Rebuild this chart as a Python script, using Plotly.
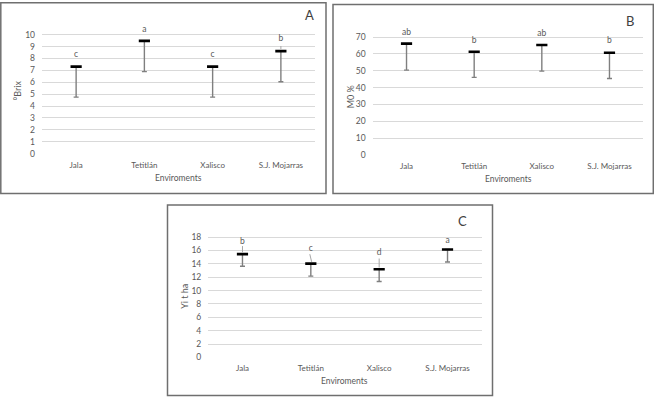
import plotly.graph_objects as go

W, H = 654, 402

categories = ["Jala", "Tetitlán", "Xalisco", "S.J. Mojarras"]

brix_mean = [7.32, 9.48, 7.32, 8.62]
brix_low = [4.75, 6.9, 4.75, 6.05]
brix_letters = ["c", "a", "c", "b"]
brix_letter_y = [8.3, 10.4, 8.3, 9.65]
brix_ticks = [0, 1, 2, 3, 4, 5, 6, 7, 8, 9, 10]

mo_mean = [66.1, 61.3, 65.3, 60.7]
mo_low = [50.4, 46.1, 49.8, 45.4]
mo_letters = ["ab", "b", "ab", "b"]
mo_letter_y = [72.6, 68.0, 72.0, 67.5]
mo_ticks = [0, 10, 20, 30, 40, 50, 60, 70]

yi_mean = [15.45, 14.04, 13.2, 16.14]
yi_low = [13.65, 12.17, 11.35, 14.27]
yi_letters = ["b", "c", "d", "a"]
yi_letter_y = [17.27, 16.3, 15.65, 17.47]
yi_ticks = [0, 2, 4, 6, 8, 10, 12, 14, 16, 18]

FONT = "Lato, Liberation Sans, Arial, sans-serif"
TXT = "#595959"
GRID = "#d9d9d9"


def px_x(px):
    return px / W


def px_y(py):
    return 1 - py / H


panels = [
    dict(ax="", xl=42, xr=315, y0=154.3, yt=33.3, ticks=brix_ticks, ext=11,
         mean=brix_mean, low=brix_low, letters=brix_letters, ly=brix_letter_y,
         ytitle="°Brix", ytx=17, yty=90, xtx=178, xty=179,
         tag="A", tagx=309, tagy=13, box=(0.8, 0.8, 326, 195)),
    dict(ax="2", xl=372.7, xr=643.3, y0=155.7, yt=35.7, ticks=mo_ticks, ext=76,
         mean=mo_mean, low=mo_low, letters=mo_letters, ly=mo_letter_y,
         ytitle="M0 %", ytx=350, yty=97, xtx=508, xty=180,
         tag="B", tagx=630, tagy=19, box=(333, 2.5, 653.3, 195)),
    dict(ax="3", xl=208.3, xr=481.7, y0=361.7, yt=239.3, ticks=yi_ticks, ext=18.5,
         mean=yi_mean, low=yi_low, letters=yi_letters, ly=yi_letter_y,
         ytitle="Yi t ha", ytx=185, yty=300, xtx=345, xty=386,
         tag="C", tagx=462, tagy=223, box=(167.5, 206.5, 492.5, 400.5)),
]

fig = go.Figure()
annotations = []
shapes = []
xs = list(range(len(categories)))

for p in panels:
    xa = "x" + p["ax"]
    ya = "y" + p["ax"]
    top = p["ticks"][-1]
    top_px = p["y0"] - (p["y0"] - p["yt"]) * p["ext"] / top
    fig.add_trace(go.Scatter(
        x=xs, y=p["mean"], xaxis=xa, yaxis=ya, mode="markers",
        marker=dict(symbol="line-ew", size=8, color="black",
                    line=dict(color="black", width=2.6)),
        error_y=dict(type="data", symmetric=False,
                     array=[0] * len(xs),
                     arrayminus=[m - l for m, l in zip(p["mean"], p["low"])],
                     color="#7f7f7f", thickness=1.4, width=2.5),
        showlegend=False, hoverinfo="skip",
    ))
    fig.add_trace(go.Scatter(
        x=xs, y=p["ly"], xaxis=xa, yaxis=ya, mode="text",
        text=p["letters"], textposition="middle center",
        textfont=dict(family=FONT, size=8.5, color=TXT),
        showlegend=False, hoverinfo="skip",
    ))
    axkey = "axis" + p["ax"]
    fig.layout["x" + axkey] = dict(
        domain=[px_x(p["xl"]), px_x(p["xr"])], anchor=ya,
        range=[-0.5, len(xs) - 0.5], tickvals=xs, ticktext=categories,
        showgrid=False, zeroline=False, showline=False, ticks="",
        ticklabelstandoff=5,
        tickfont=dict(family=FONT, size=8, color=TXT), fixedrange=True,
    )
    fig.layout["y" + axkey] = dict(
        domain=[px_y(p["y0"]), px_y(top_px)], anchor=xa,
        range=[0, p["ext"]], tickmode="array", tickvals=p["ticks"],
        showgrid=True, gridcolor=GRID, gridwidth=1, zeroline=False,
        showline=False, ticks="", ticklabelstandoff=6,
        tickfont=dict(family=FONT, size=8.5, color=TXT), fixedrange=True,
    )
    annotations.append(dict(
        x=px_x(p["ytx"]), y=px_y(p["yty"]), xref="paper", yref="paper",
        text=p["ytitle"], textangle=-90, showarrow=False,
        font=dict(family=FONT, size=9, color=TXT),
        xanchor="center", yanchor="middle"))
    annotations.append(dict(
        x=px_x(p["xtx"]), y=px_y(p["xty"]), xref="paper", yref="paper",
        text="Enviroments", showarrow=False,
        font=dict(family=FONT, size=8.5, color=TXT),
        xanchor="center", yanchor="middle"))
    annotations.append(dict(
        x=px_x(p["tagx"]), y=px_y(p["tagy"]), xref="paper", yref="paper",
        text=p["tag"], showarrow=False,
        font=dict(family=FONT, size=13, color="#404040"),
        xanchor="center", yanchor="middle"))
    bx0, by0, bx1, by1 = p["box"]
    shapes.append(dict(
        type="rect", xref="paper", yref="paper",
        x0=px_x(bx0), x1=px_x(bx1), y0=px_y(by1), y1=px_y(by0),
        line=dict(color="#6f6f6f", width=1.5), fillcolor="rgba(0,0,0,0)"))

leaders = [
    ("", 3, 9.05, 8.8, 0.0, 0.0),
    ("3", 0, 16.66, 15.7, 0.0, 0.0),
    ("3", 1, 15.45, 14.3, -0.015, 0.012),
    ("3", 2, 14.8, 13.45, 0.0, 0.0),
]
for ax, i, ya0, ya1, dx0, dx1 in leaders:
    shapes.append(dict(
        type="line", xref="x" + ax, yref="y" + ax,
        x0=i + dx0, x1=i + dx1, y0=ya0, y1=ya1,
        line=dict(color="#a6a6a6", width=1)))

fig.update_layout(
    width=W, height=H, autosize=False,
    margin=dict(l=0, r=0, t=0, b=0),
    paper_bgcolor="white", plot_bgcolor="white",
    annotations=annotations, shapes=shapes,
    font=dict(family=FONT, color=TXT),
)

fig.write_html(
    "out.html",
    config={"displayModeBar": False, "staticPlot": True},
    post_script="document.body.style.margin='0';document.body.style.overflow='hidden';",
)
